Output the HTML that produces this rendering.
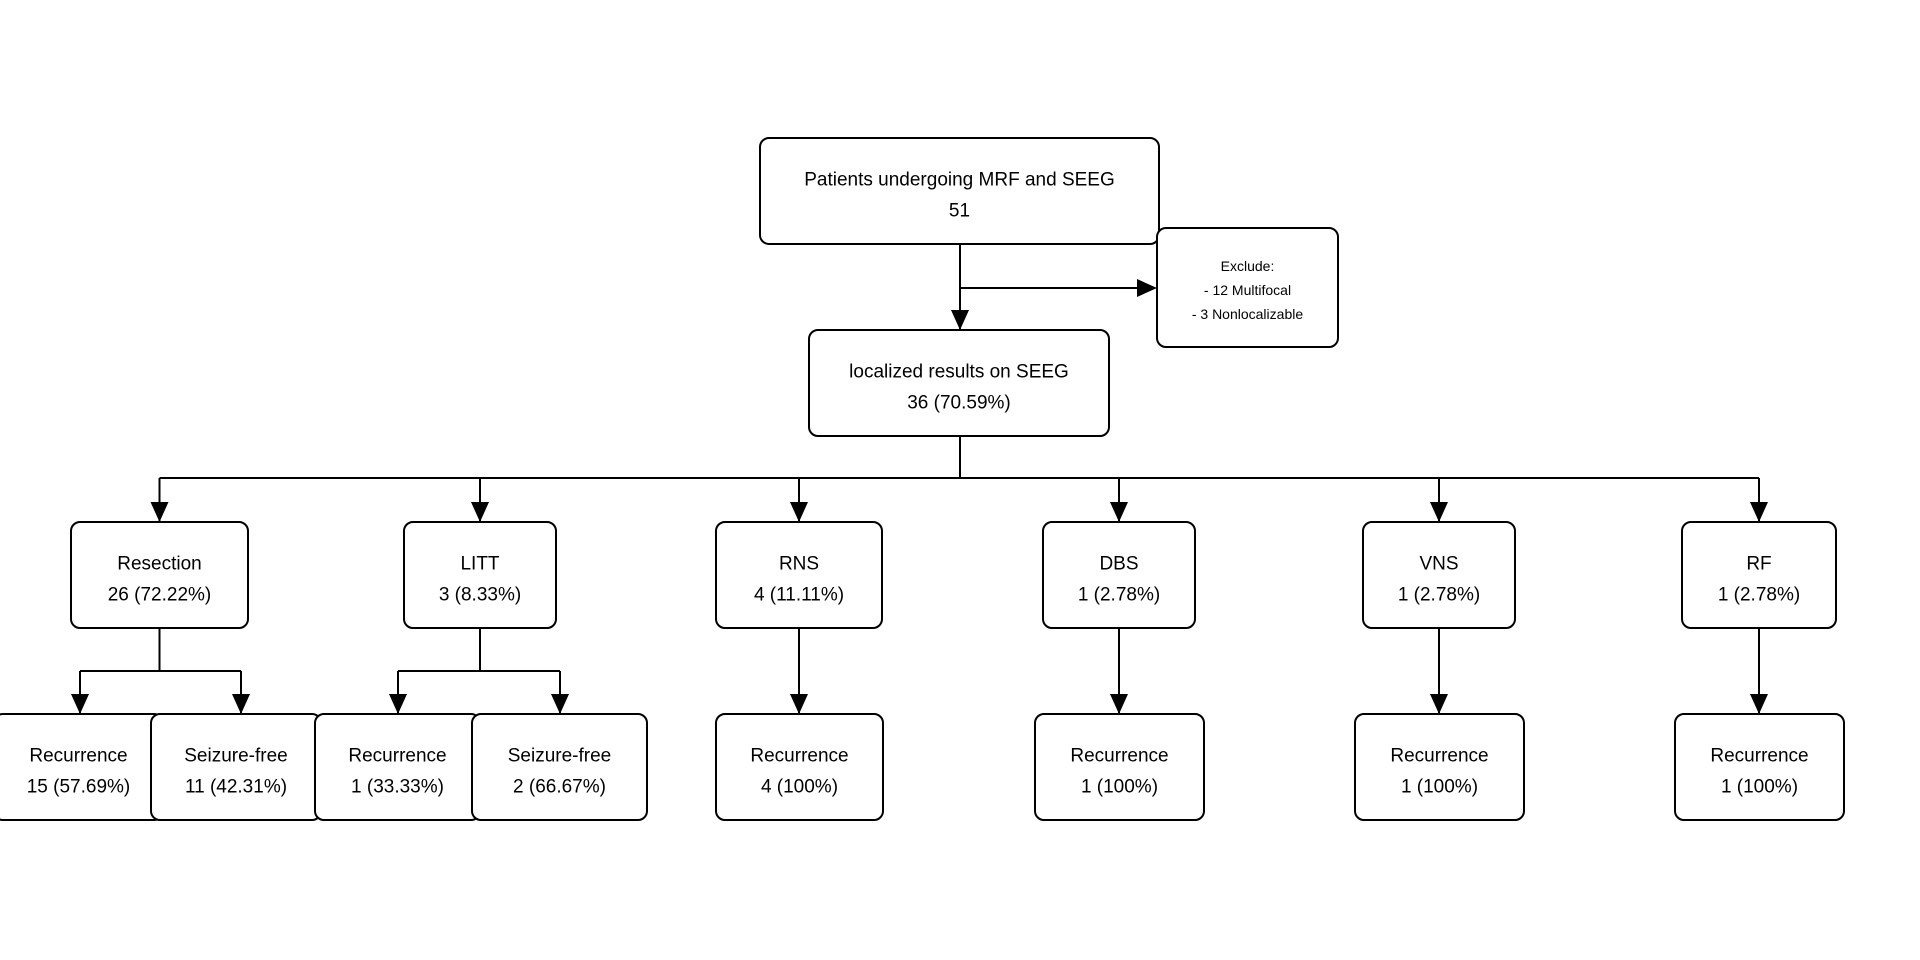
<!DOCTYPE html>
<html><head><meta charset="utf-8"><style>
html,body{margin:0;padding:0;background:#fff;}
svg{display:block;}
text{font-family:"Liberation Sans",Arial,sans-serif;fill:#000;}
</style></head><body>
<svg id="chart" width="1920" height="960" viewBox="0 0 1920 960" xmlns="http://www.w3.org/2000/svg">
<g id="edges"></g>
<g id="nodes"></g>
</svg>
<script>
const nodeNames = ["top","exclude","localized","resection","litt","rns","dbs","vns","rf","res-rec","res-sf","litt-rec","litt-sf","rns-rec","dbs-rec","vns-rec","rf-rec"];
const nodeLine1 = ["Patients undergoing MRF and SEEG","Exclude:","localized results on SEEG","Resection","LITT","RNS","DBS","VNS","RF","Recurrence","Seizure-free","Recurrence","Seizure-free","Recurrence","Recurrence","Recurrence","Recurrence"];
const nodeLine2 = ["51","- 12 Multifocal","36 (70.59%)","26 (72.22%)","3 (8.33%)","4 (11.11%)","1 (2.78%)","1 (2.78%)","1 (2.78%)","15 (57.69%)","11 (42.31%)","1 (33.33%)","2 (66.67%)","4 (100%)","1 (100%)","1 (100%)","1 (100%)"];
const svgNS="http://www.w3.org/2000/svg";
const boxes={
 "top":[760,138,399,106],"exclude":[1157,228,181,119],"localized":[809,330,300,106],
 "resection":[71,522,177,106],"litt":[404,522,152,106],"rns":[716,522,166,106],
 "dbs":[1043,522,152,106],"vns":[1363,522,152,106],"rf":[1682,522,154,106],
 "res-rec":[-6,714,169,106],"res-sf":[151,714,170,106],"litt-rec":[315,714,165,106],"litt-sf":[472,714,175,106],
 "rns-rec":[716,714,167,106],"dbs-rec":[1035,714,169,106],"vns-rec":[1355,714,169,106],"rf-rec":[1675,714,169,106]
};
const E=document.getElementById('edges'), N=document.getElementById('nodes');
function line(pts){
 const p=document.createElementNS(svgNS,'polyline');
 p.setAttribute('points',pts.map(a=>a.join(',')).join(' '));
 p.setAttribute('fill','none');p.setAttribute('stroke','#000');p.setAttribute('stroke-width','2');
 
 
 E.appendChild(p);
}
function arrowDown(x,y){
 const p=document.createElementNS(svgNS,'polygon');
 p.setAttribute('points',`${x-9},${y-20} ${x+9},${y-20} ${x},${y}`);
 p.setAttribute('fill','#000');
 
 
 E.appendChild(p);
}
function arrowRight(x,y){
 const p=document.createElementNS(svgNS,'polygon');
 p.setAttribute('points',`${x-20},${y-9} ${x-20},${y+9} ${x},${y}`);
 p.setAttribute('fill','#000');
 
 
 E.appendChild(p);
}
const cx=k=>boxes[k][0]+boxes[k][2]/2, topY=k=>boxes[k][1], botY=k=>boxes[k][1]+boxes[k][3];
line([[960,botY('top')],[960,topY('localized')]]);arrowDown(960,topY('localized'));
line([[960,288],[1155,288]]);arrowRight(1157,288);
const tr=["resection","litt","rns","dbs","vns","rf"];
line([[960,botY('localized')],[960,478]]);
line([[cx('resection'),478],[cx('rf'),478]]);
tr.forEach(k=>{line([[cx(k),478],[cx(k),topY(k)]]);arrowDown(cx(k),topY(k));});
[["resection","res-rec","res-sf"],["litt","litt-rec","litt-sf"]].forEach(([p,a,b])=>{
 line([[cx(p),botY(p)],[cx(p),671]]);
 const xa=p==="resection"?80:398, xb=p==="resection"?241:560;
 line([[xa,671],[xb,671]]);
 line([[xa,671],[xa,topY(a)]]);arrowDown(xa,topY(a));
 line([[xb,671],[xb,topY(b)]]);arrowDown(xb,topY(b));
});
[["rns","rns-rec"],["dbs","dbs-rec"],["vns","vns-rec"],["rf","rf-rec"]].forEach(([p,c])=>{
 line([[cx(p),botY(p)],[cx(p),topY(c)]]);arrowDown(cx(p),topY(c));
});
nodeNames.forEach((k,i)=>{
 const [x,y,w,h]=boxes[k];
 const g=document.createElementNS(svgNS,'g');
 
 
 const r=document.createElementNS(svgNS,'rect');
 r.setAttribute('x',x);r.setAttribute('y',y);r.setAttribute('width',w);r.setAttribute('height',h);
 r.setAttribute('rx',9);r.setAttribute('fill','#fff');r.setAttribute('stroke','#000');r.setAttribute('stroke-width','2');
 g.appendChild(r);
 const small=k==="exclude";
 const lines=small?[nodeLine1[i],nodeLine2[i],"- 3 Nonlocalizable"]:[nodeLine1[i],nodeLine2[i]];
 const fs=small?14:19, gap=small?24:31;
 const y0=y+h/2-(lines.length-1)*gap/2+(small?4:5);
 lines.forEach((s,j)=>{
  const t=document.createElementNS(svgNS,'text');
  t.setAttribute('x',x+w/2);t.setAttribute('y',y0+j*gap);
  t.setAttribute('text-anchor','middle');t.setAttribute('dominant-baseline','middle');
  t.setAttribute('font-size',fs);
  
  
  t.textContent=s;g.appendChild(t);
 });
 N.appendChild(g);
});
</script>
</body></html>
